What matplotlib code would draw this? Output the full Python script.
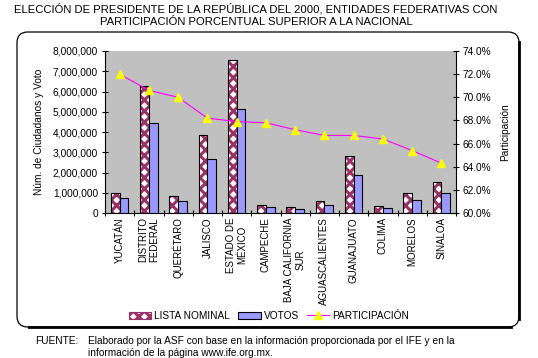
import matplotlib
matplotlib.use("Agg")
import matplotlib.pyplot as plt
import numpy as np
from matplotlib.patches import FancyBboxPatch, Patch
from matplotlib.lines import Line2D
from matplotlib.ticker import FuncFormatter

plt.rcParams['font.family'] = ['Liberation Sans', 'DejaVu Sans']
plt.rcParams['hatch.linewidth'] = 2.2

categories = ["YUCATÁN", "DISTRITO\nFEDERAL", "QUERÉTARO", "JALISCO", "ESTADO DE\nMÉXICO",
              "CAMPECHE", "BAJA CALIFORNIA\nSUR", "AGUASCALIENTES", "GUANAJUATO",
              "COLIMA", "MORELOS", "SINALOA"]
lista_nominal = [970000, 6270000, 840000, 3840000, 7540000, 400000, 300000, 590000,
                 2800000, 350000, 990000, 1530000]
votos = [730000, 4440000, 590000, 2670000, 5120000, 300000, 200000, 400000,
         1880000, 250000, 640000, 990000]
participacion = [72.0, 70.6, 70.0, 68.2, 67.9, 67.8, 67.2, 66.7, 66.7, 66.4, 65.4, 64.3]

W, H = 538, 358
fig = plt.figure(figsize=(W / 100, H / 100), dpi=100)

# outer rounded frame
x0, y0, x1, y1 = 17, 32, 519, 327
box = FancyBboxPatch((x0 / W, 1 - y1 / H), (x1 - x0) / W, (y1 - y0) / H,
                     boxstyle="round,pad=0,rounding_size=0.02",
                     transform=fig.transFigure, facecolor='none', edgecolor='black',
                     linewidth=0.9, zorder=-1, mutation_aspect=W / H)
fig.patches.append(box)
fig.add_artist(Line2D([x1 / W, x1 / W], [1 - (y0 + 10) / H, 1 - (y1 - 8) / H],
                      transform=fig.transFigure, color='black', lw=2))
fig.add_artist(Line2D([(x0 + 12) / W, (x1 - 8) / W], [1 - y1 / H, 1 - y1 / H],
                      transform=fig.transFigure, color='black', lw=2))

# title
fig.text(256 / W, 1 - 9 / H, "ELECCIÓN DE PRESIDENTE DE LA REPÚBLICA DEL 2000, ENTIDADES FEDERATIVAS CON",
         ha='center', va='center', fontsize=8.1)
fig.text(256 / W, 1 - 22 / H, "PARTICIPACIÓN PORCENTUAL SUPERIOR A LA NACIONAL",
         ha='center', va='center', fontsize=8.1)

L, R, T, B = 105, 456, 51, 213
ax = fig.add_axes([L / W, 1 - B / H, (R - L) / W, (B - T) / H])
ax.set_facecolor('#C0C0C0')

x = np.arange(len(categories))
bw = 0.3
ax.bar(x - bw / 2, lista_nominal, bw, facecolor='white', edgecolor='#993366',
       hatch='xxx', linewidth=0, zorder=2)
ax.bar(x - bw / 2, lista_nominal, bw, facecolor='none', edgecolor='black',
       linewidth=0.8, zorder=3)
ax.bar(x + bw / 2, votos, bw, facecolor='#9999FF', edgecolor='black',
       linewidth=0.8, zorder=3)

ax.set_xlim(-0.5, len(categories) - 0.5)
ax.set_ylim(0, 8000000)
ax.set_yticks(np.arange(0, 8000001, 1000000))
ax.yaxis.set_major_formatter(FuncFormatter(lambda v, p: f"{int(v):,}"))
ax.set_xticks(np.arange(len(categories) + 1) - 0.5, minor=False)
ax.set_xticklabels([])
ax.set_xticks(x, minor=True)
ax.set_xticklabels(categories, minor=True, rotation=90, fontsize=7, va='top',
                   ha='center', multialignment='center')
ax.tick_params(axis='x', which='minor', length=0, pad=3)
ax.tick_params(axis='x', which='major', length=4, direction='inout', width=0.8)
ax.tick_params(axis='y', labelsize=7.3, length=4, direction='inout', width=0.8, pad=3)
for s in ['top', 'right']:
    ax.spines[s].set_visible(False)
ax.spines['left'].set_linewidth(0.8)
ax.spines['bottom'].set_linewidth(0.8)
ax.set_ylabel("Núm. de Ciudadanos y Voto", fontsize=7.3, labelpad=6)

ax2 = ax.twinx()
ax2.plot(x, participacion, color='#FF00FF', lw=0.8, marker='^', markersize=6,
         markerfacecolor='#FFFF00', markeredgecolor='#FFFF00', zorder=5)
ax2.set_ylim(60, 74)
ax2.set_yticks(np.arange(60, 74.1, 2))
ax2.yaxis.set_major_formatter(FuncFormatter(lambda v, p: f"{v:.1f}%"))
ax2.tick_params(axis='y', labelsize=7.3, length=4, direction='inout', width=0.8, pad=3)
for s in ['top', 'left', 'bottom']:
    ax2.spines[s].set_visible(False)
ax2.spines['right'].set_linewidth(0.8)
ax2.set_ylabel("Participación", fontsize=7.3, labelpad=6)

handles = [
    Patch(facecolor='white', edgecolor='#993366', hatch='xxx', linewidth=0.8),
    Patch(facecolor='#9999FF', edgecolor='black', linewidth=0.8),
    Line2D([0], [0], color='#FF00FF', lw=0.8, marker='^', markersize=6,
           markerfacecolor='#FFFF00', markeredgecolor='#FFFF00'),
]
fig.legend(handles, ["LISTA NOMINAL", "VOTOS", "PARTICIPACIÓN"], ncol=3,
           loc='center', bbox_to_anchor=(0.5, 1 - 316 / H), frameon=False,
           fontsize=7.3, handlelength=2.2, handleheight=0.7, handletextpad=0.3,
           columnspacing=0.8)

fig.text(35 / W, 1 - 341 / H, "FUENTE:", ha='left', va='center', fontsize=7.3)
fig.text(88 / W, 1 - 341 / H,
         "Elaborado por la ASF con base en la información proporcionada por el IFE y en la",
         ha='left', va='center', fontsize=7.3)
fig.text(88 / W, 1 - 353 / H, "información de la página www.ife.org.mx.",
         ha='left', va='center', fontsize=7.3)

fig.savefig("out.png", dpi=100)
